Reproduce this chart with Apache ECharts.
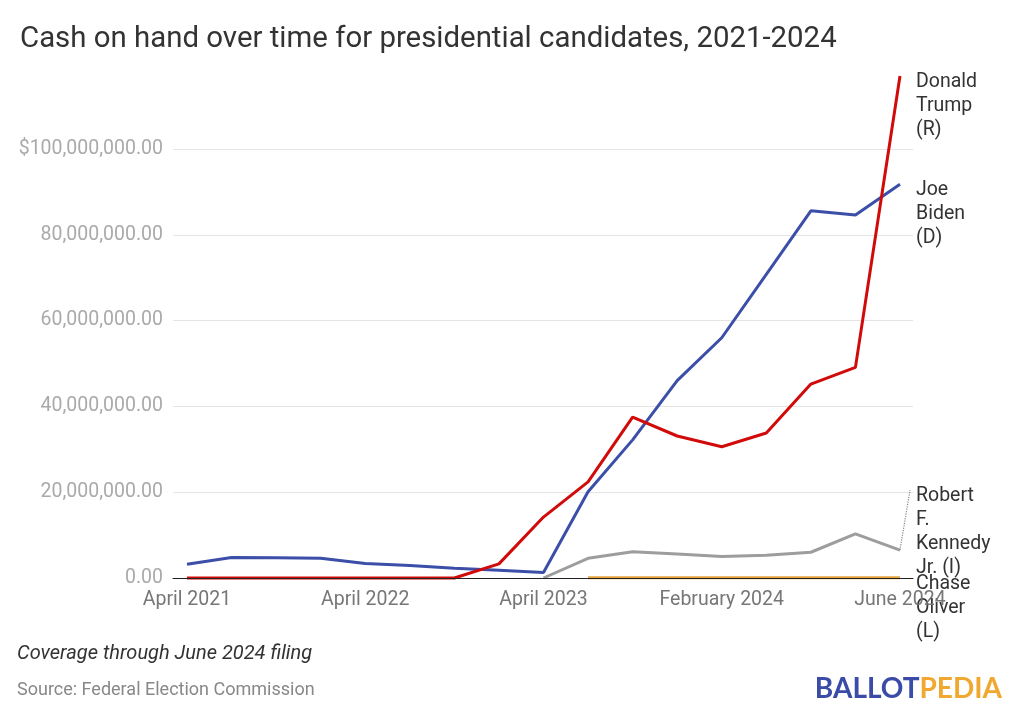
<!DOCTYPE html>
<html><head><meta charset="utf-8">
<script src="https://cdn.jsdelivr.net/npm/echarts@6/dist/echarts.min.js"></script>
<style>html,body{margin:0;padding:0;background:#fff}#c{width:1024px;height:727px}</style>
</head><body><div id="c"></div>
<script>
const categories = ['April 2021','July 2021','October 2021','January 2022','April 2022','July 2022','October 2022','January 2023','April 2023','July 2023','October 2023','January 2024','February 2024','March 2024','April 2024','May 2024','June 2024'];
const tickIndices = [0, 4, 8, 12, 16];
const yTicks = [0, 20000000, 40000000, 60000000, 80000000, 100000000];
const trump = [0,0,0,0,0,0,0,3300000,14200000,22400000,37500000,33100000,30600000,33800000,45200000,49100000,117000000];
const biden = [3200000,4800000,4700000,4600000,3400000,2900000,2300000,1800000,1300000,20100000,32200000,46000000,56000000,70800000,85600000,84600000,91800000];
const kennedy = [null,null,null,null,null,null,null,null,0,4600000,6100000,5600000,5000000,5300000,6000000,10300000,6500000];
const oliver = [null,null,null,null,null,null,null,null,null,30000,40000,30000,30000,40000,50000,40000,60000];
const seriesNames = ['Donald Trump (R)','Joe Biden (D)','Robert F. Kennedy Jr. (I)','Chase Oliver (L)'];
const labelLines = [['Donald','Trump','(R)'],['Joe','Biden','(D)'],['Robert','F.','Kennedy','Jr. (I)'],['Chase','Oliver','(L)']];
const kennedyLeader = [[16, 6500000],[16.225, 20500000]];

const toPairs = arr => arr.map((v,i)=>[i, v]);
const fmtY = v => (v===100000000?'$':'') + v.toLocaleString('en-US',{minimumFractionDigits:2, maximumFractionDigits:2});
const FONT = 'Roboto';

function mkSeries(name, data, color, width, lines, dy, z, extra){
  return Object.assign({
    name, type:'line', data: toPairs(data), clip:false, z,
    symbol:'none', showSymbol:false,
    lineStyle:{color, width},
    itemStyle:{color},
    emphasis:{disabled:true},
    endLabel:{show:true, formatter: lines.join('\n'), color:'#333', fontFamily:FONT, fontSize:19.5, lineHeight:24,
      align:'left', verticalAlign:'top', distance:16, offset:[0,dy]}
  }, extra||{});
}

const chart = echarts.init(document.getElementById('c'), null, {renderer:'canvas'});
chart.setOption({
  animation:false,
  textStyle:{fontFamily:FONT},
  title:{text:'Cash on hand over time for presidential candidates, 2021-2024', left:15, top:20,
    textStyle:{fontFamily:FONT, fontSize:29.4, fontWeight:'normal', color:'#333'}},
  grid:{left:173, right:111, top:149, bottom:149},
  xAxis:{type:'value', min:-0.314, max:16.292, z:10,
    axisLine:{show:true, onZero:true, lineStyle:{color:'#222', width:1}},
    axisTick:{show:false}, splitLine:{show:false},
    axisLabel:{customValues:tickIndices, formatter:v=>categories[Math.round(v)], color:'#777', fontSize:19.5, margin:12, fontFamily:FONT, hideOverlap:false}
  },
  yAxis:{type:'value', min:0, max:100000000, interval:20000000,
    axisLine:{show:false}, axisTick:{show:false},
    splitLine:{lineStyle:{color:'#e4e4e4', width:1}},
    axisLabel:{formatter:fmtY, color:'#aaa', fontSize:19.5, margin:10, fontFamily:FONT}
  },
  series:[
    mkSeries(seriesNames[3], oliver, '#e8a33d', 3, labelLines[3], -6, 2),
    mkSeries(seriesNames[2], kennedy, '#9d9d9d', 3, labelLines[2], -66, 3, {
      markLine:{silent:true, symbol:'none', label:{show:false},
        lineStyle:{type:'dotted', color:'#888', width:1.2},
        data:[[{coord:kennedyLeader[0]},{coord:kennedyLeader[1]}]]}
    }),
    mkSeries(seriesNames[1], biden, '#3b4ea8', 3, labelLines[1], -6, 4),
    mkSeries(seriesNames[0], trump, '#d10a0a', 3, labelLines[0], -6, 4)
  ],
  graphic:[
    {type:'text', left:17, top:644, style:{text:'Coverage through June 2024 filing', font:'italic 20px Roboto', fill:'#333'}},
    {type:'text', left:17, top:681, style:{text:'Source: Federal Election Commission', font:'18px Roboto', fill:'#888'}},
    {type:'text', right:22, top:675, style:{
      text:'{a|BALLOT}{b|PEDIA}',
      rich:{a:{fontFamily:'Lato', fontWeight:'bold', fontSize:28, fill:'#3b4ba8', color:'#3b4ba8'},
            b:{fontFamily:'Lato', fontWeight:'bold', fontSize:28, fill:'#f0a830', color:'#f0a830'}}}}
  ]
});
</script></body></html>
